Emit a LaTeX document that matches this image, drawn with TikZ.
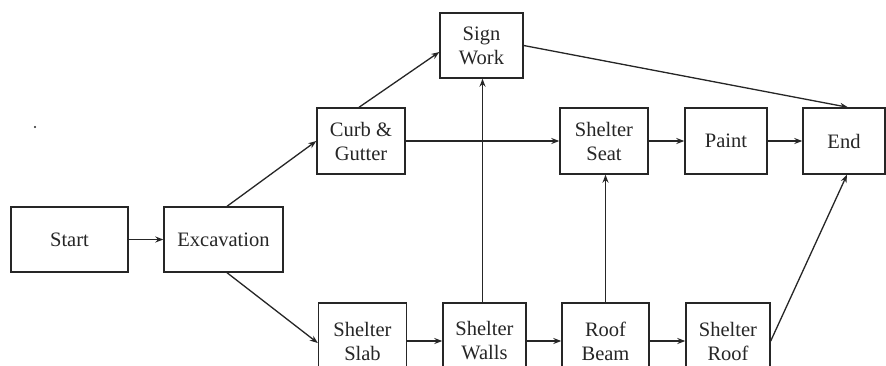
\documentclass[tikz,border=0pt]{standalone}
\usepackage{fontspec}
\setmainfont{Liberation Serif}
\usetikzlibrary{arrows.meta,calc}
\definecolor{ink}{HTML}{262626}
\tikzset{
  task/.style={draw=ink, line width=1.4pt, fill=white, text=ink, align=center,
    inner sep=0pt, font=\fontsize{20.5pt}{24pt}\selectfont},
  arr/.style={draw=ink, line width=1.3pt, -{Stealth[length=8pt,width=6pt]}}
}
\begin{document}
\begin{tikzpicture}[x=1pt,y=-1pt]
\useasboundingbox[fill=white] (0,0) rectangle (886,365);
% top and middle rows
\node[task, minimum width=117pt, minimum height=65pt] (start) at (69.5,239.5) {Start};
\node[task, minimum width=119pt, minimum height=65pt] (exc) at (223.5,239.5) {Excavation};
\node[task, minimum width=88pt, minimum height=66pt] (curb) at (361,141) {Curb \&\\Gutter};
\node[task, minimum width=83pt, minimum height=65pt] (sign) at (481.5,45.5) {Sign\\Work};
\node[task, minimum width=88pt, minimum height=66pt] (seat) at (604,141) {Shelter\\Seat};
\node[task, minimum width=82pt, minimum height=66pt] (paint) at (726,141) {Paint};
\node[task, minimum width=82pt, minimum height=66pt] (end) at (844,141) {End};
% bottom row
\node[task, minimum width=88pt, minimum height=76pt] (slab) at (362.5,341) {Shelter\\Slab};
\node[task, minimum width=83pt, minimum height=76pt] (walls) at (484.5,341) {Shelter\\Walls};
\node[task, minimum width=87pt, minimum height=76pt] (beam) at (605.5,341) {Roof\\Beam};
\node[task, minimum width=84pt, minimum height=76pt] (roof) at (728,341) {Shelter\\Roof};
% stray mark
\fill[ink] (35,127) circle (1.2pt);
% precedence arrows
\draw[arr] (start) -- (exc);
\draw[arr] ([xshift=3.5pt]exc.north) -- ([yshift=0pt]curb.west);
\draw[arr] ([xshift=3.5pt]exc.south) -- ([yshift=-2pt]slab.west);
\draw[arr] ([xshift=-2pt]curb.north) -- ([yshift=-6.5pt]sign.west);
\draw[arr] (curb.east) -- (seat.west);
\draw[arr] (sign.east) -- ([xshift=4pt]end.north);
\draw[arr] (seat) -- (paint);
\draw[arr] (paint) -- (end);
\draw[arr] (slab) -- (walls);
\draw[arr] (walls) -- (beam);
\draw[arr] (beam) -- (roof);
\draw[arr] ([xshift=-2pt]walls.north) -- ([xshift=-2pt]walls.north |- sign.south);
\draw[arr] (beam.north) -- (beam.north |- seat.south);
\draw[arr] (roof.east) -- ([xshift=3pt]end.south);
\end{tikzpicture}
\end{document}
